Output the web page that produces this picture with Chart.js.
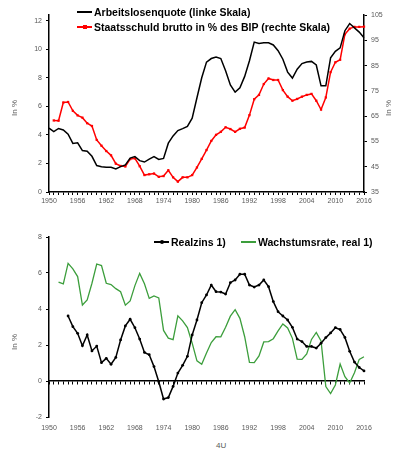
<!DOCTYPE html>
<html>
<head>
<meta charset="utf-8">
<script src="https://cdn.jsdelivr.net/npm/chart.js@4/dist/chart.umd.min.js"></script>
<style>
  html, body { margin: 0; padding: 0; background: #fff; }
  #page { position: relative; width: 398px; height: 452px; overflow: hidden; font-family: "Liberation Sans", Arial, sans-serif; }
  canvas { position: absolute; left: 0; }
  #topChart { top: 0; }
  #bottomChart { top: 212px; }
  .leg { position: absolute; font-weight: bold; font-size: 10.5px; line-height: 14px; color: #000; white-space: nowrap; }
  .ln { position: relative; display: inline-block; width: 15px; height: 1.5px; vertical-align: middle; margin-right: 2px; margin-top: -2px; }
  .mk { position: absolute; left: 6px; top: -1.25px; width: 4px; height: 4px; }
  .mk.round { border-radius: 50%; }
  .unit { position: absolute; width: 30px; height: 10px; font-size: 8px; line-height: 10px; color: #595959; text-align: center; transform: rotate(-90deg); }
  .note { position: absolute; font-size: 8px; color: #595959; }
</style>
</head>
<body>
<div id="page">
  <canvas id="topChart" width="398" height="212"></canvas>
  <canvas id="bottomChart" width="398" height="226"></canvas>

  <div class="leg" style="left:77px;top:5px"><span class="ln" style="background:#000"></span>Arbeitslosenquote (linke Skala)</div>
  <div class="leg" style="left:77px;top:20px"><span class="ln" style="background:#f00"><span class="mk" style="background:#f00"></span></span>Staatsschuld brutto in % des BIP (rechte Skala)</div>
  <div class="leg" style="left:154px;top:235px"><span class="ln" style="background:#000"><span class="mk round" style="background:#000"></span></span>Realzins 1)</div>
  <div class="leg" style="left:241px;top:235px"><span class="ln" style="background:#3c9e3c"></span>Wachstumsrate, real 1)</div>

  <div class="unit" style="left:0px;top:103px">In %</div>
  <div class="unit" style="left:374px;top:103px">In %</div>
  <div class="unit" style="left:0px;top:337px">In %</div>
  <div class="note" style="left:216px;top:441px">4U</div>
</div>
<script>
const years = [
  1950, 1951, 1952, 1953, 1954, 1955, 1956, 1957, 1958, 1959,
  1960, 1961, 1962, 1963, 1964, 1965, 1966, 1967, 1968, 1969,
  1970, 1971, 1972, 1973, 1974, 1975, 1976, 1977, 1978, 1979,
  1980, 1981, 1982, 1983, 1984, 1985, 1986, 1987, 1988, 1989,
  1990, 1991, 1992, 1993, 1994, 1995, 1996, 1997, 1998, 1999,
  2000, 2001, 2002, 2003, 2004, 2005, 2006, 2007, 2008, 2009,
  2010, 2011, 2012, 2013, 2014, 2015, 2016
];

// upper panel, left scale
const unemployment = [
  4.47, 4.23, 4.45, 4.35, 4.05, 3.4, 3.45, 2.9, 2.85, 2.5,
  1.85, 1.77, 1.74, 1.73, 1.62, 1.78, 1.9, 2.38, 2.48, 2.2,
  2.1, 2.3, 2.48, 2.28, 2.35, 3.42, 3.93, 4.3, 4.44, 4.6,
  5.17, 6.6, 8.0, 9.1, 9.35, 9.45, 9.35, 8.5, 7.5, 7.0,
  7.3, 8.1, 9.2, 10.5, 10.4, 10.45, 10.45, 10.3, 9.9, 9.3,
  8.4, 7.98, 8.6, 9.0, 9.1, 9.15, 8.9, 7.44, 7.44, 9.4,
  9.85, 10.1, 11.3, 11.8, 11.5, 11.2, 10.8
];

// upper panel, right scale (series starts 1951)
const debtRatio = [
  null, 63.3, 63.2, 70.4, 70.6, 67.1, 65.3, 64.4, 62.2, 61.1,
  55.6, 53.3, 51.2, 49.5, 46.2, 45.3, 45.1, 48.0, 48.3, 45.2,
  41.7, 42.0, 42.3, 41.0, 41.3, 43.6, 40.8, 39.1, 40.8, 40.8,
  41.7, 44.7, 48.1, 51.6, 55.2, 57.6, 58.8, 60.6, 59.9, 58.8,
  60.0, 60.5, 65.4, 71.7, 73.4, 77.7, 79.9, 79.3, 79.3, 75.3,
  72.7, 71.1, 71.8, 72.7, 73.4, 73.8, 71.1, 67.6, 72.4, 82.4,
  86.3, 87.3, 97.4, 99.6, 100.3, 100.3, 100.4
];

// lower panel (real rate starts 1954, growth starts 1952)
const realRate = [
  null, null, null, null, 3.61, 3.02, 2.65, 1.96, 2.56, 1.67,
  1.94, 1.02, 1.26, 0.93, 1.31, 2.28, 3.06, 3.43, 2.96, 2.33,
  1.59, 1.46, 0.8, -0.04, -1.0, -0.92, -0.3, 0.44, 0.87, 1.37,
  2.56, 3.39, 4.35, 4.78, 5.33, 4.96, 4.94, 4.83, 5.46, 5.61,
  5.93, 5.93, 5.33, 5.22, 5.33, 5.61, 5.24, 4.41, 3.85, 3.61,
  3.39, 2.98, 2.33, 2.19, 1.92, 1.92, 1.83, 2.1, 2.41, 2.67,
  2.96, 2.86, 2.42, 1.65, 1.05, 0.75, 0.56
];

const growthRate = [
  null, null, 5.49, 5.39, 6.54, 6.23, 5.8, 4.22, 4.5, 5.43,
  6.5, 6.41, 5.43, 5.36, 5.13, 4.96, 4.21, 4.45, 5.3, 5.98,
  5.4, 4.59, 4.73, 4.62, 2.81, 2.38, 2.3, 3.62, 3.34, 2.97,
  2.1, 1.12, 0.93, 1.55, 2.14, 2.46, 2.45, 2.99, 3.6, 3.96,
  3.48, 2.46, 1.03, 1.02, 1.39, 2.17, 2.19, 2.35, 2.78, 3.17,
  2.95, 2.37, 1.21, 1.2, 1.5, 2.31, 2.7, 2.22, -0.31, -0.7,
  -0.22, 0.94, 0.24, -0.11, 0.46, 1.2, 1.35
];

const leftTicks = [0, 2, 4, 6, 8, 10, 12];
const rightTicks = [35, 45, 55, 65, 75, 85, 95, 105];
const lowerTicks = [-2, 0, 2, 4, 6, 8];

(function () {
  const AXIS = '#000000';
  const LABEL = '#595959';
  const tickFont = { family: '"Liberation Sans", Arial, sans-serif', size: 7 };

  function fixedTicks(list) {
    return (scale) => { scale.ticks = list.map((v) => ({ value: v })); };
  }

  function yearLabel(value, index) {
    return index % 6 === 0 ? String(years[index]) : '';
  }

  function yAxis(position, min, max, list, width) {
    return {
      position,
      min,
      max,
      afterBuildTicks: fixedTicks(list),
      afterFit: (scale) => { scale.width = width; },
      border: { display: true, color: AXIS, width: 1.5 },
      grid: { display: true, drawOnChartArea: false, drawTicks: true, tickLength: 3, color: AXIS },
      ticks: { color: LABEL, font: tickFont, padding: 4 }
    };
  }

  const base = {
    responsive: false,
    animation: false,
    devicePixelRatio: 1,
    plugins: { legend: { display: false }, tooltip: { enabled: false } },
    elements: { line: { tension: 0 } }
  };

  new Chart(document.getElementById('topChart'), {
    type: 'line',
    data: {
      labels: years,
      datasets: [
        {
          label: 'Arbeitslosenquote (linke Skala)',
          data: unemployment,
          yAxisID: 'y',
          borderColor: '#000000',
          borderWidth: 1.5,
          pointRadius: 0
        },
        {
          label: 'Staatsschuld brutto in % des BIP (rechte Skala)',
          data: debtRatio,
          yAxisID: 'y2',
          borderColor: '#ff0000',
          borderWidth: 1.5,
          pointStyle: 'rect',
          pointRadius: 1.6,
          pointBackgroundColor: '#ff0000',
          pointBorderColor: '#ff0000',
          pointBorderWidth: 0
        }
      ]
    },
    options: Object.assign({}, base, {
      layout: { padding: { top: 15, left: 0, right: 0, bottom: 0 } },
      scales: {
        x: {
          type: 'category',
          offset: false,
          afterFit: (scale) => { scale.height = 20; },
          border: { display: true, color: AXIS, width: 1.5 },
          grid: { display: true, drawOnChartArea: false, drawTicks: true, tickLength: 3, color: AXIS },
          ticks: { autoSkip: false, maxRotation: 0, color: LABEL, font: tickFont, padding: 2, callback: yearLabel }
        },
        y: yAxis('left', 0, 12.4, leftTicks, 49),
        y2: yAxis('right', 35, 105, rightTicks, 34)
      }
    })
  });

  new Chart(document.getElementById('bottomChart'), {
    type: 'line',
    data: {
      labels: years,
      datasets: [
        {
          label: 'Realzins 1)',
          data: realRate,
          borderColor: '#000000',
          borderWidth: 1.5,
          pointRadius: 1.4,
          pointBackgroundColor: '#000000',
          pointBorderWidth: 0
        },
        {
          label: 'Wachstumsrate, real 1)',
          data: growthRate,
          borderColor: '#3c9e3c',
          borderWidth: 1.3,
          pointRadius: 0
        }
      ]
    },
    options: Object.assign({}, base, {
      layout: { padding: { top: 25, left: 0, right: 34, bottom: 0 } },
      scales: {
        x: {
          type: 'category',
          offset: false,
          afterFit: (scale) => { scale.height = 21; },
          border: { display: false },
          grid: { display: false, drawTicks: false },
          ticks: { autoSkip: false, maxRotation: 0, color: LABEL, font: tickFont, padding: 7, callback: yearLabel }
        },
        // zero line with yearly tick marks
        xz: {
          type: 'category',
          offset: false,
          position: { y: 0 },
          border: { display: true, color: AXIS, width: 1.5 },
          grid: { display: true, drawOnChartArea: false, drawTicks: true, tickLength: 3, color: AXIS },
          ticks: { display: false }
        },
        y: yAxis('left', -2, 8, lowerTicks, 49)
      }
    })
  });
})();
</script>
</body>
</html>
